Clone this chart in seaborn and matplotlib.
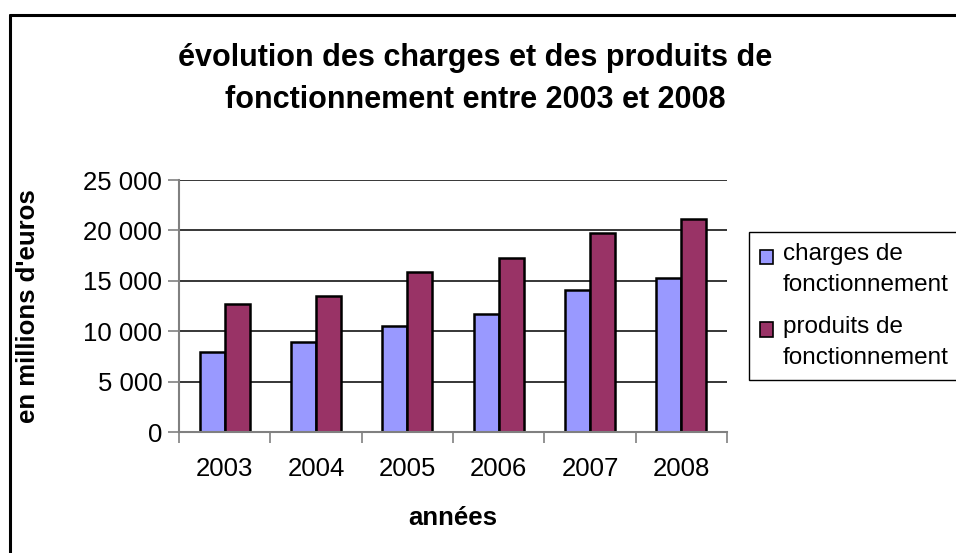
import pandas as pd
import numpy as np
import matplotlib
matplotlib.use('Agg')
import matplotlib.pyplot as plt
import seaborn as sns
from matplotlib.lines import Line2D
from matplotlib.patches import Rectangle
from matplotlib.legend_handler import HandlerPatch
from matplotlib.ticker import FuncFormatter, FixedLocator

years = ['2003', '2004', '2005', '2006', '2007', '2008']
charges = [7900, 8900, 10500, 11700, 14100, 15300]
produits = [12700, 13500, 15900, 17300, 19700, 21100]
series_names = ['charges de\nfonctionnement', 'produits de\nfonctionnement']
series_colors = ['#9999FF', '#993366']
y_ticks = [0, 5000, 10000, 15000, 20000, 25000]

df = pd.DataFrame({
    'année': years * 2,
    'valeur': charges + produits,
    'série': [series_names[0]] * len(years) + [series_names[1]] * len(years),
})

sns.set_style('white')
plt.rcParams['font.family'] = ['Liberation Sans', 'DejaVu Sans']
plt.rcParams['text.color'] = 'black'
plt.rcParams['xtick.color'] = 'black'
plt.rcParams['ytick.color'] = 'black'
plt.rcParams['axes.labelcolor'] = 'black'

fig = plt.figure(figsize=(9.56, 5.53), dpi=100)
ax = fig.add_axes([179 / 956, 1 - 432 / 553, (727 - 179) / 956, (432 - 180) / 553])

sns.barplot(data=df, x='année', y='valeur', hue='série', palette=series_colors, saturation=1,
            width=0.55, edgecolor='black', linewidth=1.8, ax=ax, legend=False)

ax.set_ylim(0, 25000)
ax.set_xlim(-0.5, len(years) - 0.5)
ax.set_yticks(y_ticks)
ax.yaxis.set_major_formatter(FuncFormatter(lambda v, p: f'{int(v):,}'.replace(',', ' ')))
for yv in y_ticks[1:]:
    ax.axhline(yv, color='black', lw=1.1, zorder=0)

ax.xaxis.set_minor_locator(FixedLocator(np.arange(-0.5, len(years), 1.0)))
ax.tick_params(axis='x', which='major', length=0, labelsize=18.5, pad=18)
ax.tick_params(axis='x', which='minor', length=8, width=1.2, color='#808080', direction='out', bottom=True)
ax.tick_params(axis='y', length=8, width=1.2, color='#808080', direction='out', left=True,
               labelsize=18.5, pad=4, labelcolor='black')

for side in ['top', 'right']:
    ax.spines[side].set_visible(False)
for side in ['left', 'bottom']:
    ax.spines[side].set_color('#808080')
    ax.spines[side].set_linewidth(1.5)

ax.set_xlabel('années', fontsize=18.5, fontweight='bold')
ax.set_ylabel("en millions d'euros", fontsize=18.5, fontweight='bold')
ax.xaxis.set_label_coords((453 - 179) / 548, (432 - 518) / 252)
ax.yaxis.set_label_coords((28 - 179) / 548, 0.5)
ax.xaxis.label.set_va('center')
ax.yaxis.label.set_va('center')

fig.text(475 / 956, 1 - 79 / 553, 'évolution des charges et des produits de\nfonctionnement entre 2003 et 2008',
         ha='center', va='center', fontsize=22, fontweight='bold', linespacing=1.55)


def top_square(legend, orig_handle, xdescent, ydescent, width, height, fontsize):
    # square sits next to the first line of a two-line label
    return Rectangle((-xdescent, -ydescent + 9), width, height)


handles = [Rectangle((0, 0), 1, 1, facecolor=c, edgecolor='black', lw=1.2) for c in series_colors]
leg = fig.legend(handles, series_names, loc='upper left', bbox_to_anchor=(749 / 956, 1 - 232 / 553),
                 fontsize=17.5, frameon=True, fancybox=False, framealpha=1, edgecolor='black',
                 handlelength=0.55, handleheight=0.55, handletextpad=0.4, labelspacing=0.8,
                 borderpad=0.45, borderaxespad=0,
                 handler_map={Rectangle: HandlerPatch(patch_func=top_square)})
leg.get_frame().set_linewidth(1.0)
for t in leg.get_texts():
    t.set_linespacing(1.55)

fig.add_artist(Line2D([10 / 956, 10 / 956], [1 - 15 / 553, 0], transform=fig.transFigure, color='black', lw=2.2))
fig.add_artist(Line2D([10 / 956, 1], [1 - 15 / 553, 1 - 15 / 553], transform=fig.transFigure, color='black', lw=2.2))

fig.savefig('out.png', dpi=100)
